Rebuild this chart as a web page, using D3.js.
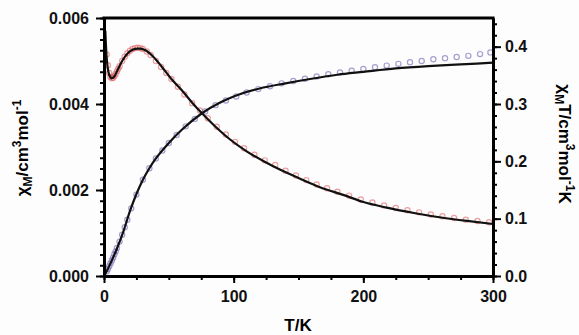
<!DOCTYPE html>
<html>
<head>
<meta charset="utf-8">
<script src="https://cdn.jsdelivr.net/npm/d3@7"></script>
<style>
    body { margin: 0; background: #fdfdfd; }
    svg { display: block; font-family: 'Liberation Sans', Arial, sans-serif; font-weight: bold; }
    .axis path, .axis line { stroke: #000; }
    .axis text { font-size: 16px; font-weight: bold; fill: #111; }
</style>
</head>
<body>
<svg width="579" height="335"></svg>
<script>
// ticks
const xTicks = [0, 100, 200, 300];
const yLeftTicks = [0, 0.002, 0.004, 0.006];
const yRightTicks = [0, 0.1, 0.2, 0.3, 0.4];

// fitted chiM curve (left axis)
const fitChiT = [1, 2, 4, 6, 8, 10, 14, 18, 22, 26, 28, 32, 38, 45, 52, 60, 68, 75, 85, 97, 110, 125, 136, 150, 167, 185, 200, 218, 240, 260, 280, 300];
const fitChi = [0.0057, 0.0051, 0.00468, 0.00460, 0.00464, 0.00476, 0.00500, 0.00517, 0.00526, 0.00529, 0.00529, 0.00525, 0.00510, 0.00485, 0.00458, 0.00432, 0.00403, 0.00380, 0.00350, 0.00318, 0.00290, 0.00264, 0.00247, 0.00228, 0.00206, 0.00188, 0.00172, 0.00159, 0.00146, 0.00136, 0.00128, 0.00121];

// fitted chiMT curve (right axis)
const fitChiTT = [0, 2, 5, 10, 15, 20, 25, 30, 35, 40, 50, 60, 75, 90, 100, 120, 140, 160, 180, 200, 225, 250, 275, 300];
const fitChiTVal = [0.0, 0.008, 0.022, 0.048, 0.078, 0.113, 0.143, 0.168, 0.188, 0.205, 0.232, 0.255, 0.283, 0.303, 0.313, 0.327, 0.336, 0.344, 0.351, 0.356, 0.362, 0.366, 0.369, 0.372];

// measured chiM (open circles, red)
const dataChiT = [2, 3, 4, 5, 6, 7, 8, 9, 10, 11, 12, 14, 16, 18, 20, 22, 24, 26, 28, 30, 33, 36, 40, 44, 48, 52, 57, 62, 68, 74, 80, 87, 94, 101, 108, 116, 124, 132, 140, 148, 156, 164, 172, 180, 189, 198, 207, 216, 225, 234, 243, 252, 261, 270, 279, 288, 297];
const dataChi = [0.00515, 0.00490, 0.00472, 0.00463, 0.00460, 0.00461, 0.00465, 0.00470, 0.00476, 0.00482, 0.00488, 0.00500, 0.00510, 0.00518, 0.00524, 0.00528, 0.00530, 0.00531, 0.00530, 0.00528, 0.00522, 0.00514, 0.00500, 0.00486, 0.00472, 0.00458, 0.00440, 0.00422, 0.00402, 0.00385, 0.00367, 0.00347, 0.00329, 0.00312, 0.00297, 0.00282, 0.00269, 0.00258, 0.00245, 0.00234, 0.00223, 0.00213, 0.00204, 0.00196, 0.00187, 0.00178, 0.00171, 0.00164, 0.00158, 0.00153, 0.00148, 0.00143, 0.00139, 0.00135, 0.00131, 0.00128, 0.00125];

// measured chiMT (open circles, blue-violet)
const dataChiTT = [2, 3, 4, 5, 6, 7, 8, 9, 10, 12, 14, 16, 18, 21, 25, 30, 35, 40, 45, 50, 56, 63, 70, 78, 86, 94, 102, 110, 119, 128, 137, 146, 155, 164, 173, 182, 191, 200, 209, 218, 227, 236, 245, 254, 263, 272, 281, 290, 298];
const dataChiTVal = [0.008, 0.012, 0.017, 0.022, 0.027, 0.032, 0.038, 0.043, 0.049, 0.060, 0.072, 0.085, 0.098, 0.118, 0.142, 0.168, 0.188, 0.205, 0.219, 0.232, 0.246, 0.261, 0.274, 0.287, 0.298, 0.306, 0.313, 0.320, 0.326, 0.331, 0.336, 0.340, 0.344, 0.348, 0.352, 0.355, 0.358, 0.361, 0.364, 0.367, 0.370, 0.373, 0.375, 0.378, 0.380, 0.382, 0.384, 0.387, 0.390];

const svg = d3.select('svg');
const plotLeft = 104, plotRight = 493, plotTop = 18, plotBottom = 276;

var x = d3.scaleLinear().domain([0, 300]).range([plotLeft, plotRight]);
var yL = d3.scaleLinear().domain([0, 0.006]).range([plotBottom, plotTop]);
var yR = d3.scaleLinear().domain([0, 0.45]).range([plotBottom, plotTop]);

// data circles
svg.append('g').selectAll('circle')
    .data(dataChiT.map((t, i) => [t, dataChi[i]]))
    .enter()
    .append('circle')
    .attr('cx', d => x(d[0]))
    .attr('cy', d => yL(d[1]))
    .attr('r', 2.6)
    .style('fill', 'none')
    .style('stroke', 'rgba(220, 80, 80, 0.55)')
    .style('stroke-width', 1.2);

svg.append('g').selectAll('circle')
    .data(dataChiTT.map((t, i) => [t, dataChiTVal[i]]))
    .enter()
    .append('circle')
    .attr('cx', d => x(d[0]))
    .attr('cy', d => yR(d[1]))
    .attr('r', 2.6)
    .style('fill', 'none')
    .style('stroke', 'rgba(110, 95, 175, 0.6)')
    .style('stroke-width', 1.2);

// fit lines
var lineL = d3.line().x(d => x(d[0])).y(d => yL(d[1])).curve(d3.curveMonotoneX);
var lineR = d3.line().x(d => x(d[0])).y(d => yR(d[1])).curve(d3.curveMonotoneX);

svg.append('path')
    .attr('d', lineL(fitChiT.map((t, i) => [t, fitChi[i]])))
    .style('fill', 'none').style('stroke', '#111').style('stroke-width', 2.2);
svg.append('path')
    .attr('d', lineR(fitChiTT.map((t, i) => [t, fitChiTVal[i]])))
    .style('fill', 'none').style('stroke', '#111').style('stroke-width', 2.2);

// axes - minor ticks first, then majors with labels
function drawAxis(axis, transform, cls) {
    var g = svg.append('g').attr('class', 'axis ' + cls).attr('transform', transform).call(axis);
    g.selectAll('path').style('stroke-width', 3);
    g.selectAll('line').style('stroke-width', 2);
    return g;
}

drawAxis(d3.axisBottom(x).tickValues(d3.range(0, 301, 25)).tickSize(4).tickSizeOuter(0).tickFormat(''), `translate(0,${plotBottom})`, 'minor');
drawAxis(d3.axisBottom(x).tickValues(xTicks).tickSize(7).tickSizeOuter(0).tickPadding(8).tickFormat(d3.format('d')), `translate(0,${plotBottom})`, 'x');

drawAxis(d3.axisLeft(yL).tickValues(d3.range(0, 0.0060001, 0.00025)).tickSize(4).tickSizeOuter(0).tickFormat(''), `translate(${plotLeft},0)`, 'minor');
drawAxis(d3.axisLeft(yL).tickValues(yLeftTicks).tickSize(8).tickSizeOuter(0).tickPadding(7).tickFormat(d3.format('.3f')), `translate(${plotLeft},0)`, 'yl');

drawAxis(d3.axisRight(yR).tickValues(d3.range(0, 0.4501, 0.02)).tickSize(4).tickSizeOuter(0).tickFormat(''), `translate(${plotRight},0)`, 'minor');
drawAxis(d3.axisRight(yR).tickValues(yRightTicks).tickSize(8).tickSizeOuter(0).tickPadding(4).tickFormat(d3.format('.1f')), `translate(${plotRight},0)`, 'yr');

// top frame
svg.append('line')
    .attr('x1', plotLeft - 1.5).attr('x2', plotRight + 1.5)
    .attr('y1', plotTop).attr('y2', plotTop)
    .style('stroke', '#000').style('stroke-width', 3);

// axis titles
svg.append('text')
    .attr('x', 298).attr('y', 331)
    .attr('text-anchor', 'middle')
    .style('font-size', '17px')
    .text('T/K');

var tl = svg.append('text')
    .attr('transform', 'translate(28,148)rotate(-90)')
    .attr('text-anchor', 'middle')
    .style('font-size', '17px');
tl.append('tspan').text('χ');
tl.append('tspan').attr('dy', 4).style('font-size', '12px').text('M');
tl.append('tspan').attr('dy', -4).text('/cm');
tl.append('tspan').attr('dy', -7).style('font-size', '12px').text('3');
tl.append('tspan').attr('dy', 7).text('mol');
tl.append('tspan').attr('dy', -7).style('font-size', '12px').text('-1');

var tr = svg.append('text')
    .attr('transform', 'translate(559,144)rotate(90)')
    .attr('text-anchor', 'middle')
    .style('font-size', '17px');
tr.append('tspan').text('χ');
tr.append('tspan').attr('dy', 4).style('font-size', '12px').text('M');
tr.append('tspan').attr('dy', -4).text('T/cm');
tr.append('tspan').attr('dy', -7).style('font-size', '12px').text('3');
tr.append('tspan').attr('dy', 7).text('mol');
tr.append('tspan').attr('dy', -7).style('font-size', '12px').text('-1');
tr.append('tspan').attr('dy', 7).text('K');
</script>
</body>
</html>
